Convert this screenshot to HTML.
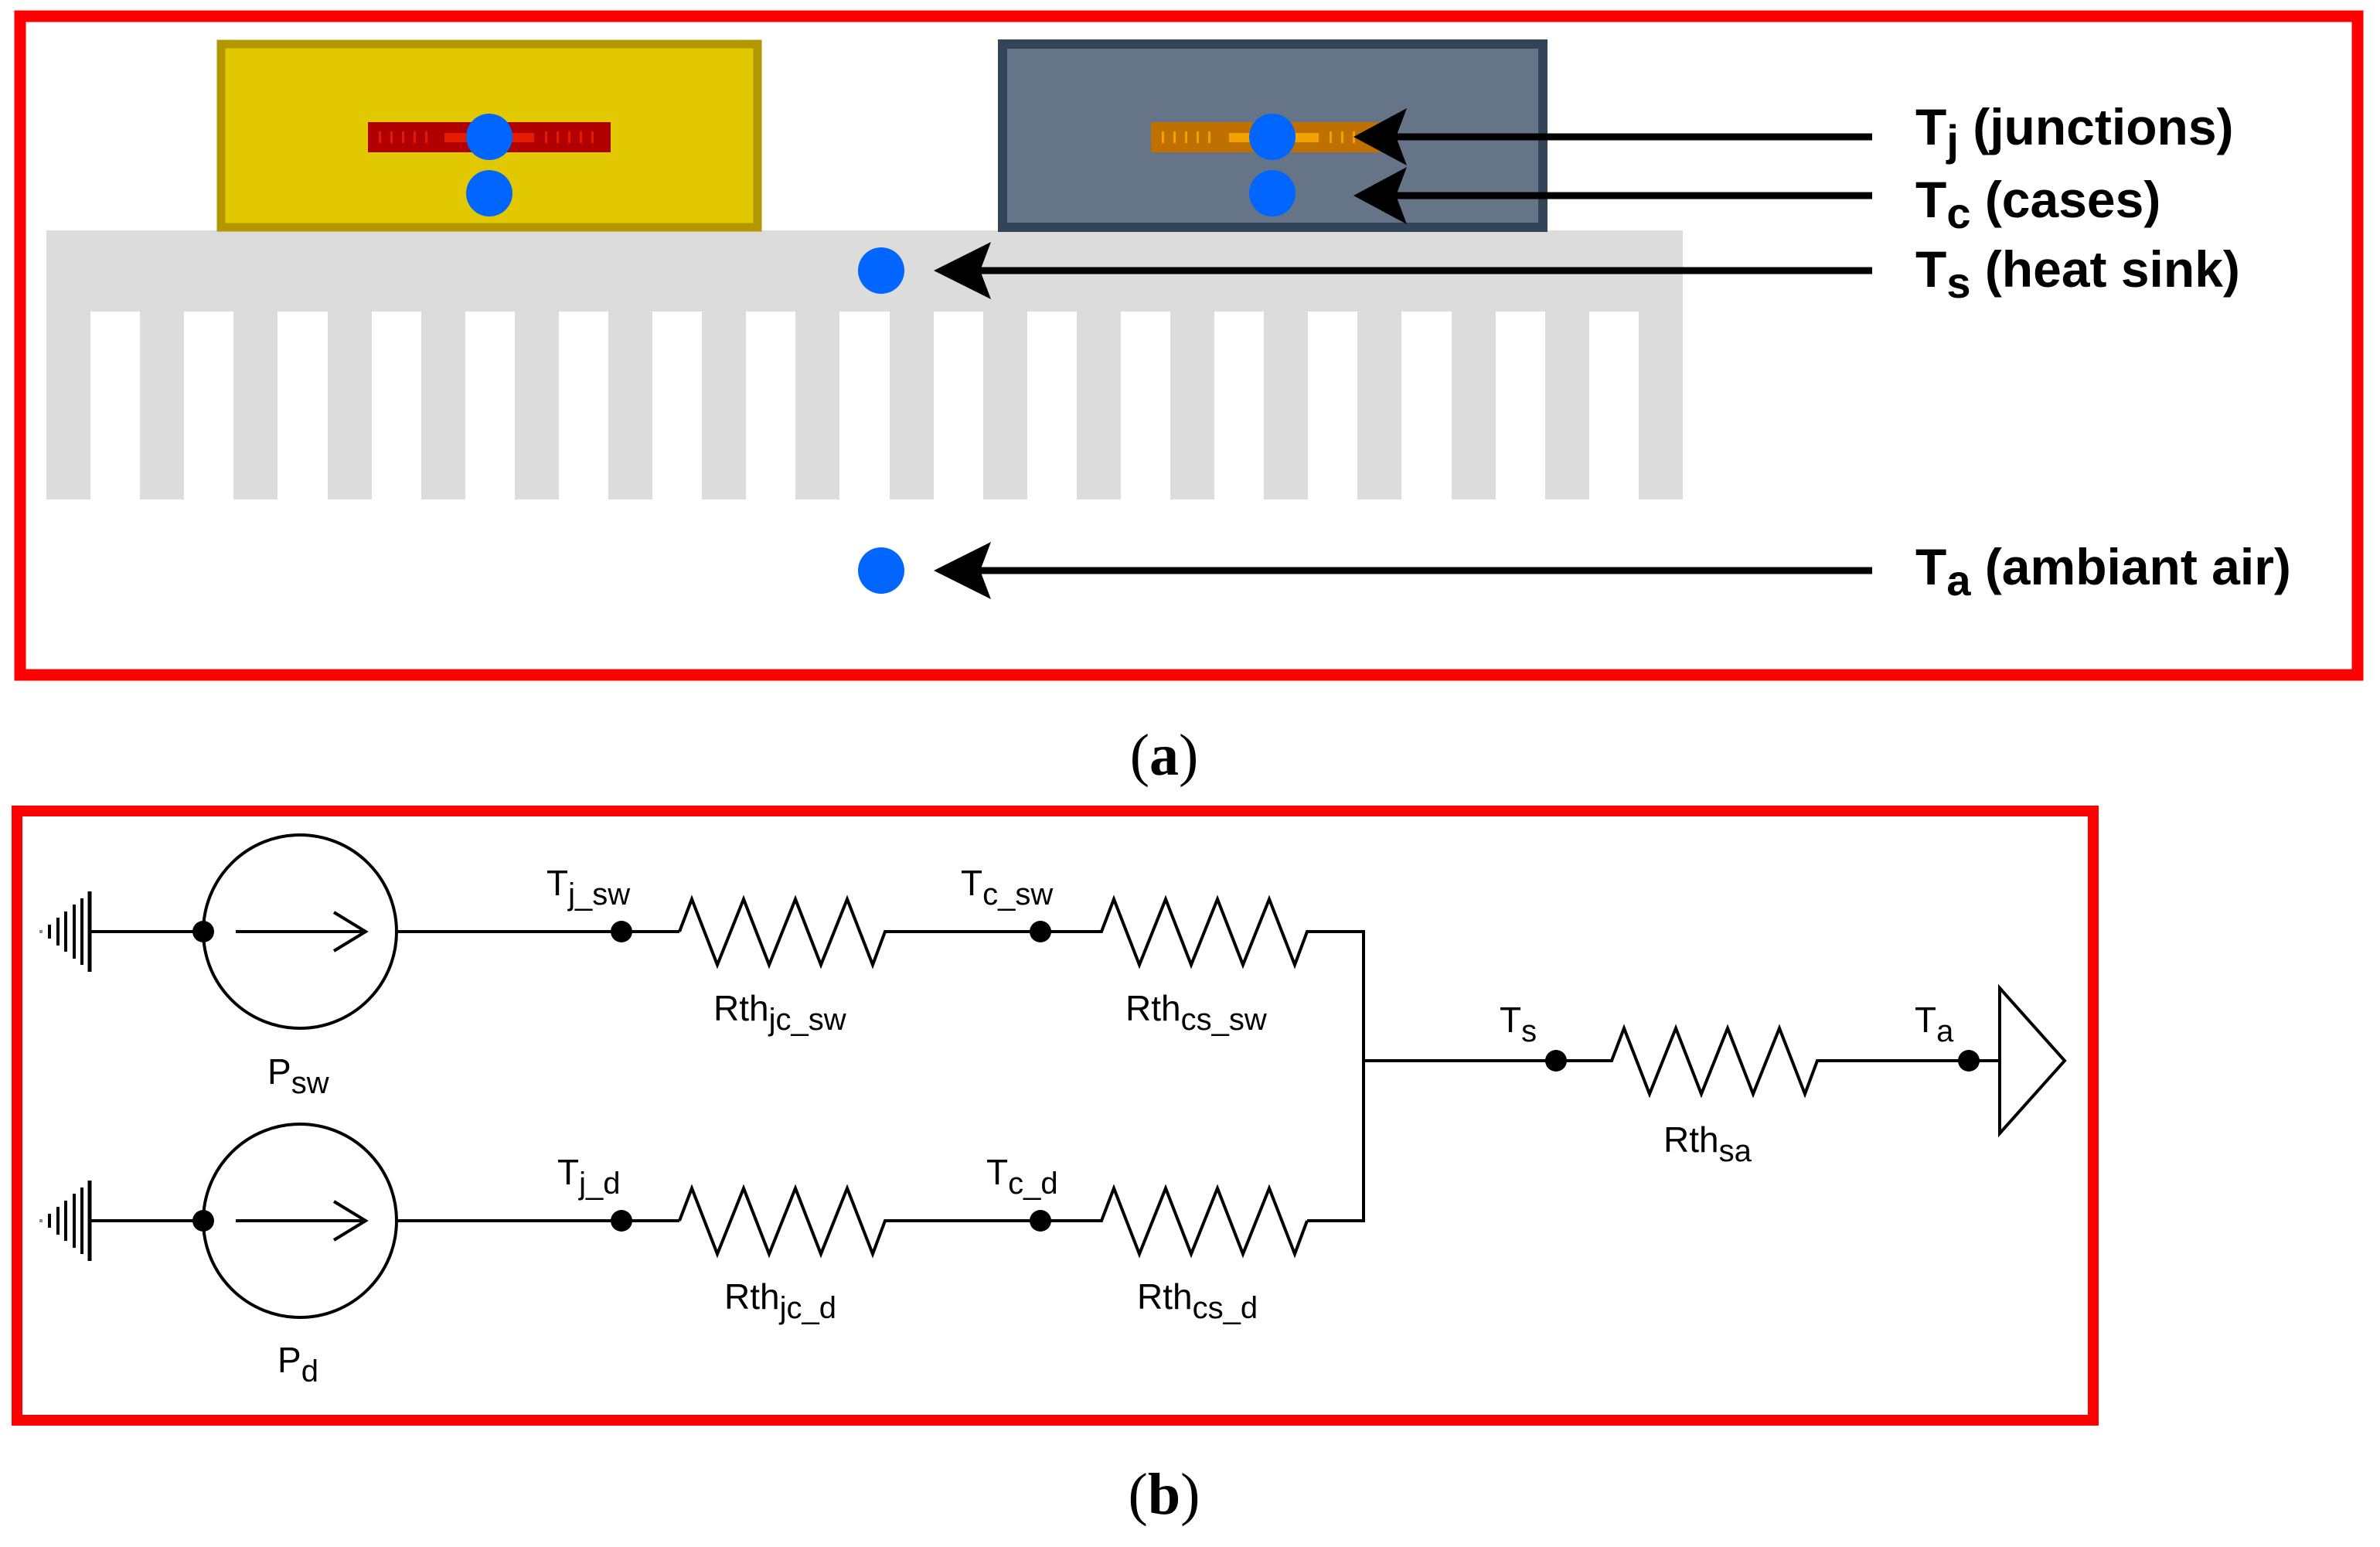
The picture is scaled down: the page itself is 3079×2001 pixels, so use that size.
<!DOCTYPE html>
<html><head><meta charset="utf-8"><style>
html,body{margin:0;padding:0;background:#fff;}
svg{display:block;}
</style></head><body>
<svg width="3079" height="2001" viewBox="0 0 3079 2001" xmlns="http://www.w3.org/2000/svg">
<rect x="0" y="0" width="3079" height="2001" fill="#fff"/>
<rect x="26" y="21" width="3024" height="852" fill="none" stroke="#ff0000" stroke-width="15"/>
<g fill="#dcdcdc">
<rect x="60" y="298" width="2117" height="105"/>
<rect x="60" y="400" width="57" height="246"/>
<rect x="181" y="400" width="57" height="246"/>
<rect x="302" y="400" width="57" height="246"/>
<rect x="424" y="400" width="57" height="246"/>
<rect x="545" y="400" width="57" height="246"/>
<rect x="666" y="400" width="57" height="246"/>
<rect x="787" y="400" width="57" height="246"/>
<rect x="908" y="400" width="57" height="246"/>
<rect x="1029" y="400" width="57" height="246"/>
<rect x="1151" y="400" width="57" height="246"/>
<rect x="1272" y="400" width="57" height="246"/>
<rect x="1393" y="400" width="57" height="246"/>
<rect x="1514" y="400" width="57" height="246"/>
<rect x="1635" y="400" width="57" height="246"/>
<rect x="1756" y="400" width="57" height="246"/>
<rect x="1878" y="400" width="57" height="246"/>
<rect x="1999" y="400" width="57" height="246"/>
<rect x="2120" y="400" width="57" height="246"/>
</g>
<rect x="286" y="57" width="694" height="237" fill="#e2c800" stroke="#b39700" stroke-width="11"/>
<rect x="476" y="158" width="314" height="39" fill="#b00000"/>
<rect x="575" y="172" width="116" height="12" fill="#e61a00"/>
<g fill="#e61a00"><rect x="490" y="170" width="3" height="15"/><rect x="505" y="170" width="3" height="15"/><rect x="520" y="170" width="3" height="15"/><rect x="535" y="170" width="3" height="15"/><rect x="550" y="170" width="3" height="15"/><rect x="705" y="170" width="3" height="15"/><rect x="720" y="170" width="3" height="15"/><rect x="735" y="170" width="3" height="15"/><rect x="750" y="170" width="3" height="15"/><rect x="765" y="170" width="3" height="15"/></g>
<circle cx="633" cy="177" r="30" fill="#0066ff"/>
<circle cx="633" cy="250" r="30" fill="#0066ff"/>
<rect x="1297" y="57" width="699" height="237" fill="#657587" stroke="#324457" stroke-width="12"/>
<rect x="1489" y="158" width="314" height="39" fill="#c07000"/>
<rect x="1590" y="172" width="116" height="12" fill="#f2a200"/>
<g fill="#f2a200"><rect x="1503" y="170" width="3" height="15"/><rect x="1518" y="170" width="3" height="15"/><rect x="1533" y="170" width="3" height="15"/><rect x="1548" y="170" width="3" height="15"/><rect x="1563" y="170" width="3" height="15"/><rect x="1720" y="170" width="3" height="15"/><rect x="1735" y="170" width="3" height="15"/><rect x="1750" y="170" width="3" height="15"/></g>
<circle cx="1646" cy="177" r="30" fill="#0066ff"/>
<circle cx="1646" cy="250" r="30" fill="#0066ff"/>
<circle cx="1140" cy="350" r="30" fill="#0066ff"/>
<circle cx="1140" cy="738" r="30" fill="#0066ff"/>
<g stroke="#000" stroke-width="9">
<line x1="1800" y1="177" x2="2422" y2="177"/>
<line x1="1800" y1="253" x2="2422" y2="253"/>
<line x1="1260" y1="350" x2="2422" y2="350"/>
<line x1="1260" y1="738" x2="2422" y2="738"/>
</g>
<g fill="#000">
<path d="M1751,177 L1820,140 L1806,177 L1820,214 Z"/>
<path d="M1751,253 L1820,216 L1806,253 L1820,290 Z"/>
<path d="M1208,350 L1282,313 L1268,350 L1282,387 Z"/>
<path d="M1208,738 L1282,701 L1268,738 L1282,775 Z"/>
</g>
<g font-family="Liberation Sans, Arial, sans-serif" font-weight="bold" font-size="66" fill="#000">
<text x="2478" y="187">T<tspan font-size="56" dy="14">j</tspan><tspan dy="-14"> (junctions)</tspan></text>
<text x="2478" y="281">T<tspan font-size="56" dy="14">c</tspan><tspan dy="-14"> (cases)</tspan></text>
<text x="2478" y="371">T<tspan font-size="56" dy="14">s</tspan><tspan dy="-14"> (heat sink)</tspan></text>
<text x="2478" y="756">T<tspan font-size="56" dy="14">a</tspan><tspan dy="-14"> (ambiant air)</tspan></text>
</g>
<text x="1506" y="1002" text-anchor="middle" font-family="Liberation Serif, serif" font-size="76">(<tspan font-weight="bold">a</tspan>)</text>

<rect x="22" y="1049" width="2686" height="788" fill="none" stroke="#ff0000" stroke-width="14"/>
<g stroke="#000" stroke-width="4" fill="none">
<g id="gnd">
<line x1="116" y1="1153" x2="116" y2="1257" stroke-width="5"/>
<line x1="106" y1="1162" x2="106" y2="1248"/>
<line x1="96" y1="1170" x2="96" y2="1240"/>
<line x1="85" y1="1179" x2="85" y2="1231"/>
<line x1="75" y1="1187" x2="75" y2="1223"/>
<line x1="64" y1="1196" x2="64" y2="1214"/>
<line x1="53" y1="1203" x2="53" y2="1207" stroke="#888"/>
</g>
<use href="#gnd" transform="translate(0,374)"/>
<line x1="116" y1="1205" x2="263" y2="1205"/>
<circle cx="388" cy="1205" r="125"/>
<line x1="305" y1="1205" x2="473" y2="1205"/>
<polyline points="432,1180 473,1205 432,1230"/>
<line x1="513" y1="1205" x2="879" y2="1205"/>
<polyline points="879,1205 895,1163 928,1248 962,1163 995,1248 1029,1163 1062,1248 1096,1163 1129,1248 1145,1205 1425,1205 1441,1163 1474,1248 1508,1163 1541,1248 1575,1163 1608,1248 1642,1163 1675,1248 1691,1205 1764,1205 1764,1579 1691,1579"/>
<line x1="116" y1="1579" x2="263" y2="1579"/>
<circle cx="388" cy="1579" r="125"/>
<line x1="305" y1="1579" x2="473" y2="1579"/>
<polyline points="432,1554 473,1579 432,1604"/>
<line x1="513" y1="1579" x2="879" y2="1579"/>
<polyline points="879,1579 895,1537 928,1622 962,1537 995,1622 1029,1537 1062,1622 1096,1537 1129,1622 1145,1579 1425,1579 1441,1537 1474,1622 1508,1537 1541,1622 1575,1537 1608,1622 1642,1537 1675,1622 1691,1579"/>
<polyline points="1764,1372 2085,1372 2101,1330 2134,1415 2168,1330 2201,1415 2235,1330 2268,1415 2302,1330 2335,1415 2351,1372 2587,1372"/>
<path d="M2587,1278 L2587,1466 L2671,1372 Z"/>
</g>
<g fill="#000">
<circle cx="263" cy="1205" r="14"/><circle cx="804" cy="1205" r="14"/><circle cx="1346" cy="1205" r="14"/>
<circle cx="263" cy="1579" r="14"/><circle cx="804" cy="1579" r="14"/><circle cx="1346" cy="1579" r="14"/>
<circle cx="2013" cy="1372" r="14"/><circle cx="2547" cy="1372" r="14"/>
</g>
<g font-family="Liberation Sans, Arial, sans-serif" font-size="46" fill="#000">
<text x="707" y="1158">T<tspan font-size="40" dy="12">j_sw</tspan></text>
<text x="1243" y="1158">T<tspan font-size="40" dy="12">c_sw</tspan></text>
<text x="721" y="1532">T<tspan font-size="40" dy="12">j_d</tspan></text>
<text x="1276" y="1532">T<tspan font-size="40" dy="12">c_d</tspan></text>
<text x="923" y="1320">Rth<tspan font-size="40" dy="12">jc_sw</tspan></text>
<text x="1456" y="1320">Rth<tspan font-size="40" dy="12">cs_sw</tspan></text>
<text x="937" y="1693">Rth<tspan font-size="40" dy="12">jc_d</tspan></text>
<text x="1471" y="1693">Rth<tspan font-size="40" dy="12">cs_d</tspan></text>
<text x="346" y="1402">P<tspan font-size="40" dy="12">sw</tspan></text>
<text x="359" y="1775">P<tspan font-size="40" dy="12">d</tspan></text>
<text x="1940" y="1335">T<tspan font-size="40" dy="12">s</tspan></text>
<text x="2477" y="1335">T<tspan font-size="40" dy="12">a</tspan></text>
<text x="2152" y="1490">Rth<tspan font-size="40" dy="12">sa</tspan></text>
</g>
<text x="1506" y="1958" text-anchor="middle" font-family="Liberation Serif, serif" font-size="76">(<tspan font-weight="bold">b</tspan>)</text>
</svg>
</body></html>
